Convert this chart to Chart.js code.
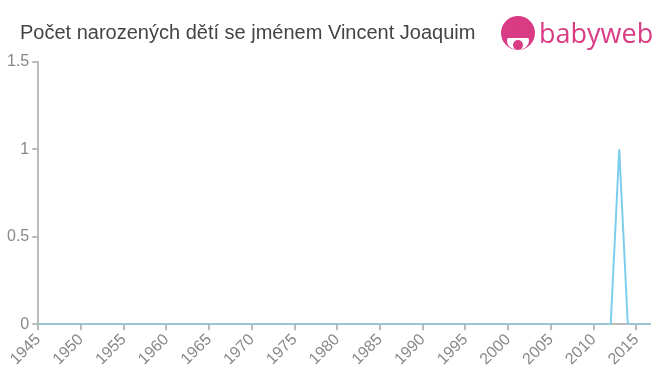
<!DOCTYPE html>
<html>
<head>
<meta charset="utf-8">
<script src="https://cdn.jsdelivr.net/npm/chart.js@4/dist/chart.umd.min.js"></script>
<style>
  html, body { margin: 0; padding: 0; background: #fff; }
  #wrap { position: relative; width: 660px; height: 375px; overflow: hidden; }
  #title { position: absolute; left: 20px; top: 21px; font-family: "Liberation Sans", Arial, sans-serif; font-size: 20px; color: #444; white-space: nowrap; }
  #logo { position: absolute; left: 500px; top: 14px; }
  #logoText { position: absolute; left: 539px; top: 15px; font-family: "Open Sans", "DejaVu Sans", sans-serif; font-size: 27px; color: #d93b84; line-height: 36px; }
  canvas { position: absolute; left: 0; top: 0; }
</style>
</head>
<body>
<div id="wrap">
  <canvas id="chart" width="660" height="375"></canvas>
  <div id="title">Počet narozených dětí se jménem Vincent Joaquim</div>
  <svg id="logo" width="38" height="40" viewBox="0 0 38 40">
    <circle cx="18" cy="19" r="17" fill="#d93b84"/>
    <ellipse cx="18" cy="27" rx="11" ry="9" fill="#fff"/>
    <path d="M7 24 Q12 14 18 18 Q24 14 29 24 Z" fill="#d93b84"/>
    <circle cx="18" cy="31" r="5" fill="#d93b84"/>
  </svg>
  <div id="logoText">babyweb</div>
</div>
<script>
// Years and number of births
const years = [
  1945, 1946, 1947, 1948, 1949, 1950, 1951, 1952, 1953, 1954,
  1955, 1956, 1957, 1958, 1959, 1960, 1961, 1962, 1963, 1964,
  1965, 1966, 1967, 1968, 1969, 1970, 1971, 1972, 1973, 1974,
  1975, 1976, 1977, 1978, 1979, 1980, 1981, 1982, 1983, 1984,
  1985, 1986, 1987, 1988, 1989, 1990, 1991, 1992, 1993, 1994,
  1995, 1996, 1997, 1998, 1999, 2000, 2001, 2002, 2003, 2004,
  2005, 2006, 2007, 2008, 2009, 2010, 2011, 2012, 2013, 2014,
  2015, 2016, 2017
];
const births = [
  0, 0, 0, 0, 0, 0, 0, 0, 0, 0,
  0, 0, 0, 0, 0, 0, 0, 0, 0, 0,
  0, 0, 0, 0, 0, 0, 0, 0, 0, 0,
  0, 0, 0, 0, 0, 0, 0, 0, 0, 0,
  0, 0, 0, 0, 0, 0, 0, 0, 0, 0,
  0, 0, 0, 0, 0, 0, 0, 0, 0, 0,
  0, 0, 0, 0, 0, 0, 0, 0, 1, 0,
  0, 0, 0
];
const xTicks = [1945, 1950, 1955, 1960, 1965, 1970, 1975, 1980, 1985, 1990, 1995, 2000, 2005, 2010, 2015];
const yTicks = [0, 0.5, 1, 1.5];

function initChart() {
  const ctx = document.getElementById('chart').getContext('2d');
  const axisColor = '#bbbbbb';
  const tickFont = { family: '"Liberation Sans", Arial, sans-serif', size: 16 };
  new Chart(ctx, {
    type: 'line',
    data: {
      datasets: [{
        data: years.map((y, i) => ({ x: y, y: births[i] })),
        borderColor: '#7dcdec',
        borderWidth: 2,
        pointRadius: 0,
        tension: 0,
        fill: false
      }]
    },
    options: {
      responsive: false,
      animation: false,
      layout: { padding: { top: 62, right: 10, left: 4, bottom: 6 } },
      plugins: { legend: { display: false }, tooltip: { enabled: false } },
      scales: {
        x: {
          type: 'linear',
          min: 1945,
          max: 2016.6,
          afterBuildTicks: (axis) => { axis.ticks = xTicks.map(v => ({ value: v })); },
          border: { color: axisColor, width: 2 },
          grid: { display: true, drawOnChartArea: false, drawTicks: true, tickLength: 6, color: axisColor, lineWidth: 2 },
          ticks: {
            color: '#888',
            font: tickFont,
            maxRotation: 45,
            minRotation: 45,
            padding: 0,
            callback: (v) => String(v)
          }
        },
        y: {
          min: 0,
          max: 1.5,
          afterBuildTicks: (axis) => { axis.ticks = yTicks.map(v => ({ value: v })); },
          border: { color: axisColor, width: 2 },
          grid: { display: true, drawOnChartArea: false, drawTicks: true, tickLength: 6, color: axisColor, lineWidth: 2 },
          ticks: { color: '#888', font: tickFont, padding: 3, callback: (v) => String(v) }
        }
      }
    }
  });
}

document.addEventListener('DOMContentLoaded', () => {
  initChart();
});
</script>
</body>
</html>
